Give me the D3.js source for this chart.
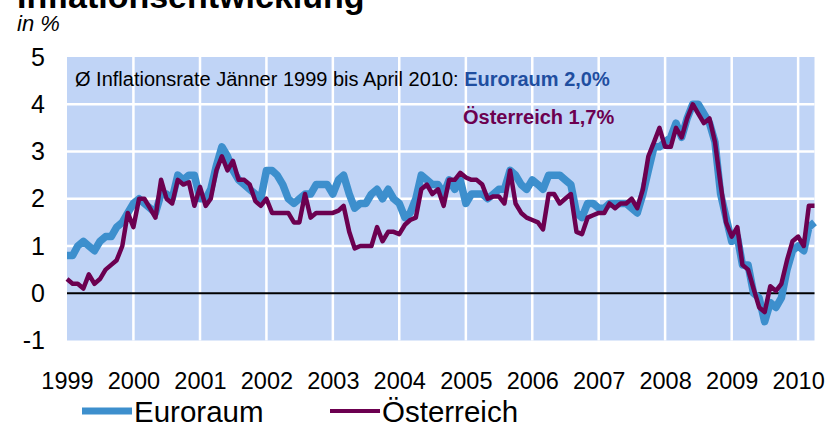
<!DOCTYPE html>
<html>
<head>
<meta charset="utf-8">
<script src="https://cdnjs.cloudflare.com/ajax/libs/d3/7.8.5/d3.min.js"></script>
<style>
  body { margin: 0; background: #fff; }
  svg { display: block; font-family: "Liberation Sans", Arial, sans-serif; }
</style>
</head>
<body>
<div id="chart"></div>
<script>
// monthly values, Jan 1999 - Apr 2010 (in %)
const euroraum = [
  0.8, 0.8, 1.0, 1.1, 1.0, 0.9, 1.1, 1.2, 1.2, 1.4, 1.5, 1.7,   // 1999
  1.9, 2.0, 1.9, 1.8, 1.7, 2.1, 2.1, 2.0, 2.5, 2.4, 2.5, 2.5,   // 2000
  2.0, 2.0, 2.2, 2.7, 3.1, 2.9, 2.6, 2.4, 2.3, 2.2, 2.1, 2.0,   // 2001
  2.6, 2.6, 2.5, 2.3, 2.0, 1.9, 2.0, 2.1, 2.1, 2.3, 2.3, 2.3,   // 2002
  2.1, 2.4, 2.5, 2.1, 1.8, 1.9, 1.9, 2.1, 2.2, 2.0, 2.2, 2.0,   // 2003
  1.9, 1.6, 1.7, 2.0, 2.5, 2.4, 2.3, 2.3, 2.1, 2.4, 2.2, 2.4,   // 2004
  1.9, 2.1, 2.1, 2.1, 2.0, 2.1, 2.2, 2.2, 2.6, 2.5, 2.3, 2.2,   // 2005
  2.4, 2.3, 2.2, 2.5, 2.5, 2.5, 2.4, 2.3, 1.7, 1.6, 1.9, 1.9,   // 2006
  1.8, 1.8, 1.9, 1.9, 1.9, 1.9, 1.8, 1.7, 2.1, 2.6, 3.1, 3.1,   // 2007
  3.2, 3.3, 3.6, 3.3, 3.7, 4.0, 4.0, 3.8, 3.6, 3.2, 2.1, 1.6,   // 2008
  1.1, 1.2, 0.6, 0.6, 0.0, -0.1, -0.6, -0.2, -0.3, -0.1, 0.5, 0.9, // 2009
  1.0, 0.9, 1.4, 1.5                                            // 2010
];
const oesterreich = [
  0.3, 0.2, 0.2, 0.1, 0.4, 0.2, 0.3, 0.5, 0.6, 0.7, 1.0, 1.7,
  1.4, 2.0, 2.0, 1.8, 1.6, 2.4, 2.0, 1.9, 2.4, 2.3, 2.35, 1.85,
  2.25, 1.85, 2.0, 2.6, 2.9, 2.6, 2.8, 2.4, 2.4, 2.3, 1.95, 1.85,
  2.0, 1.7, 1.7, 1.7, 1.7, 1.5, 1.5, 2.1, 1.6, 1.7, 1.7, 1.7,
  1.7, 1.75, 1.85, 1.3, 0.95, 1.0, 1.0, 1.0, 1.4, 1.1, 1.3, 1.3,
  1.25, 1.45, 1.55, 1.6, 2.2, 2.3, 2.1, 2.2, 1.85, 2.4, 2.4, 2.55,
  2.45, 2.4, 2.4, 2.3, 2.0, 2.05, 2.05, 1.9, 2.6, 1.9, 1.7, 1.6,
  1.55, 1.5, 1.35, 2.1, 2.1, 1.9, 2.0, 2.1, 1.3, 1.25, 1.6, 1.65,
  1.7, 1.7, 1.9, 1.8, 1.9, 1.9, 2.0, 1.8, 2.2, 2.9, 3.2, 3.5,
  3.1, 3.1, 3.5, 3.3, 3.7, 4.0, 3.8, 3.6, 3.7, 3.2, 2.3, 1.5,
  1.2, 1.4, 0.6, 0.5, 0.1, -0.3, -0.4, 0.15, 0.05, 0.2, 0.7, 1.1,
  1.2, 1.0, 1.85, 1.85
];
const yTicks = [-1, 0, 1, 2, 3, 4, 5];
const gridValues = [1, 2, 3, 4];
const seriesNames = ["Euroraum", "Österreich"];
const months = d3.timeMonth.range(new Date(1999, 0, 1), new Date(2010, 4, 1));

const blue = "#3d8fcd", purple = "#6c0050";

// set the dimensions and margins of the graph
var margin = { top: 57, right: 13.5, bottom: 86.5, left: 67 },
    width = 828 - margin.left - margin.right,
    height = 427 - margin.top - margin.bottom;

var root = d3.select("#chart")
    .append("svg")
    .attr("width", 828)
    .attr("height", 427);

var Svg = root.append("g")
    .attr("transform", "translate(" + margin.left + "," + margin.top + ")");

var x = d3.scaleTime()
    .domain([months[0], months[months.length - 1]])
    .range([0, width]);
var y = d3.scaleLinear()
    .domain([-1, 5])
    .range([height, 0]);

// plot background + white grid
Svg.append("rect")
    .attr("width", width)
    .attr("height", height)
    .attr("fill", "#c0d4f6");

Svg.selectAll(".vgrid")
    .data(d3.timeYear.range(new Date(2000, 0, 1), new Date(2010, 1, 1)))
    .enter().append("line")
    .attr("x1", d => x(d)).attr("x2", d => x(d))
    .attr("y1", 0).attr("y2", height)
    .attr("stroke", "#fff").attr("stroke-width", 2.5);

Svg.selectAll(".hgrid")
    .data(gridValues)
    .enter().append("line")
    .attr("x1", 0).attr("x2", width)
    .attr("y1", d => y(d)).attr("y2", d => y(d))
    .attr("stroke", "#fff").attr("stroke-width", 2.5);

Svg.append("line")
    .attr("x1", 0).attr("x2", width)
    .attr("y1", y(0)).attr("y2", y(0))
    .attr("stroke", "#000").attr("stroke-width", 2);

// axes
var yAxis = Svg.append("g")
    .call(d3.axisLeft(y).tickValues(yTicks).tickSize(0).tickPadding(22).tickFormat(d => String(d)));
yAxis.select(".domain").remove();
yAxis.selectAll("text").attr("font-size", 25).attr("fill", "#000").style("font-family", "inherit");

var xAxis = Svg.append("g")
    .attr("transform", "translate(0," + height + ")")
    .call(d3.axisBottom(x).ticks(d3.timeYear).tickSize(0).tickPadding(32).tickFormat(d3.timeFormat("%Y")));
xAxis.select(".domain").remove();
xAxis.selectAll("text").attr("font-size", 23.5).attr("fill", "#000").style("font-family", "inherit");

// lines
var line = d3.line()
    .x((d, i) => x(months[i]))
    .y(d => y(d));

Svg.append("path")
    .datum(euroraum)
    .attr("fill", "none")
    .attr("stroke", blue)
    .attr("stroke-width", 7.5)
    .attr("stroke-linejoin", "round")
    .attr("d", line);

Svg.append("path")
    .datum(oesterreich)
    .attr("fill", "none")
    .attr("stroke", purple)
    .attr("stroke-width", 4.5)
    .attr("stroke-linejoin", "round")
    .attr("d", line);

// annotation
var note = Svg.append("text")
    .attr("x", 8)
    .attr("y", 29)
    .attr("font-size", 20);
note.append("tspan").attr("fill", "#000").text("Ø Inflationsrate Jänner 1999 bis April 2010: ");
note.append("tspan").attr("fill", "#1f4ea0").attr("font-weight", "bold").text("Euroraum 2,0%");

Svg.append("text")
    .attr("x", 396)
    .attr("y", 67)
    .attr("font-size", 20)
    .attr("font-weight", "bold")
    .attr("fill", purple)
    .text("Österreich 1,7%");

// title
root.append("text")
    .attr("x", 17).attr("y", 8)
    .attr("font-size", 34).attr("font-weight", "bold")
    .text("Inflationsentwicklung");
root.append("text")
    .attr("x", 17).attr("y", 31)
    .attr("font-size", 22).attr("font-style", "italic")
    .text("in %");

// legend
var legend = root.append("g");
var legendX = [82, 330];
seriesNames.forEach((name, i) => {
    legend.append("line")
        .attr("x1", legendX[i]).attr("x2", legendX[i] + 50)
        .attr("y1", 411).attr("y2", 411)
        .attr("stroke", i == 0 ? blue : purple)
        .attr("stroke-width", i == 0 ? 7 : 4);
    legend.append("text")
        .attr("x", legendX[i] + 52)
        .attr("y", 422)
        .attr("font-size", 29.5)
        .text(name);
});
</script>
</body>
</html>
